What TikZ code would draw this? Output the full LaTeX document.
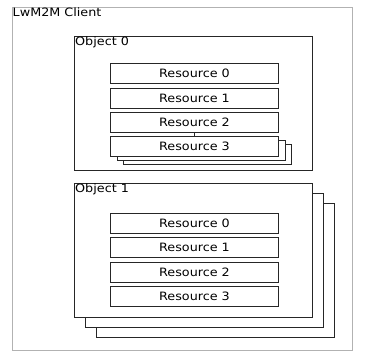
\documentclass[tikz,border=0pt]{standalone}
\usepackage{fontspec}
\setmainfont[FakeStretch=1.11]{DejaVu Sans}
\begin{document}
\begin{tikzpicture}[x=1pt,y=-1pt,
  font=\fontsize{11.5}{13}\selectfont,
  clientbox/.style={draw=black!30, line width=1pt, fill=white, anchor=north west, inner sep=0pt},
  objbox/.style={draw=black!85, line width=1pt, fill=white, anchor=north west, inner sep=0pt, minimum width=238pt, minimum height=134pt},
  resbox/.style={draw=black!85, line width=1pt, fill=white, anchor=north west, inner sep=0pt, minimum width=168pt, minimum height=20pt},
  lbl/.style={anchor=north west, inner sep=0pt}]
\useasboundingbox (0,0) rectangle (372,359);
% client
\node[clientbox, minimum width=340pt, minimum height=343pt] (client) at (12,7) {};
\node[lbl] (clientlbl) at (12.5,8) {LwM2M Client};
% object 0
\node[objbox] (obj0) at (74,36) {};
\node[lbl] (obj0lbl) at (75,36.5) {Object 0};
\node[resbox] (r0) at (110,63) {Resource 0};
\node[resbox] (r1) at (110,87.5) {Resource 1};
\node[resbox] (r2) at (110,112) {Resource 2};
\node[resbox] (r3c) at (123,144) {};
\node[resbox] (r3b) at (116.5,140) {};
\node[resbox] (r3) at (110,136) {Resource 3};
\draw[draw=black!85, line width=1pt] (r2.south) -- (r3.north);
% object 1
\node[objbox] (obj1c) at (96,202.5) {};
\node[objbox] (obj1b) at (85,193) {};
\node[objbox] (obj1) at (74,183) {};
\node[lbl] (obj1lbl) at (75,183.5) {Object 1};
\node[resbox] (s0) at (110,213) {Resource 0};
\node[resbox] (s1) at (110,237) {Resource 1};
\node[resbox] (s2) at (110,261.5) {Resource 2};
\node[resbox] (s3) at (110,286) {Resource 3};
\end{tikzpicture}
\end{document}
